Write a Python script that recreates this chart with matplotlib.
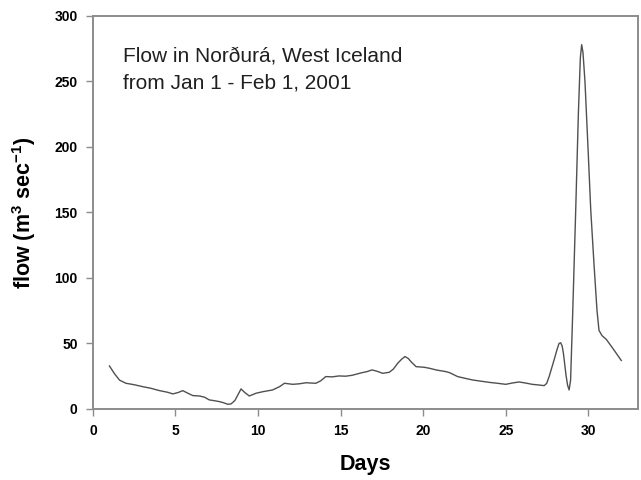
import matplotlib
matplotlib.use("Agg")
import matplotlib.pyplot as plt

plt.rcParams['font.family'] = ['Liberation Sans', 'DejaVu Sans']
plt.rcParams['mathtext.fontset'] = 'custom'
plt.rcParams['mathtext.rm'] = 'Liberation Sans'
plt.rcParams['mathtext.bf'] = 'Liberation Sans:bold'

# Daily-resolution readings of river discharge, Jan 1 - Feb 1, 2001
days = [1.0, 1.3, 1.61, 2.0, 2.5, 3.02, 3.5, 4.03, 4.5, 4.84, 5.15, 5.44, 5.75,
        6.05, 6.45, 6.75, 7.05, 7.4, 7.66, 7.9, 8.16, 8.36, 8.6, 8.97, 9.2,
        9.47, 9.88, 10.3, 10.88, 11.3, 11.6, 12.1, 12.5, 12.9, 13.5, 13.8,
        14.1, 14.5, 14.9, 15.3, 15.7, 16.3, 16.6, 16.9, 17.2, 17.55, 17.95,
        18.2, 18.46, 18.7, 18.9, 19.1, 19.27, 19.57, 20.07, 20.4, 20.78, 21.0,
        21.38, 21.6, 22.09, 22.5, 23.0, 23.5, 24.0, 24.5, 25.0, 25.4, 25.8,
        26.2, 26.6, 27.0, 27.33, 27.48, 27.63, 27.93, 28.1, 28.23, 28.33,
        28.42, 28.5, 28.65, 28.75, 28.84, 28.93, 29.05, 29.24, 29.4, 29.52,
        29.6, 29.68, 29.8, 30.0, 30.15, 30.35, 30.53, 30.65, 30.83, 31.1,
        31.5, 32.0]
flow = [32.8, 27.0, 22.0, 19.6, 18.5, 17.0, 15.8, 14.0, 12.8, 11.5, 12.5, 14.0,
        12.0, 10.2, 9.9, 9.0, 6.9, 6.2, 5.6, 4.8, 3.6, 3.8, 6.5, 15.3, 12.5,
        9.9, 12.0, 13.2, 14.5, 17.0, 19.6, 18.8, 19.2, 20.0, 19.6, 21.5, 24.7,
        24.5, 25.2, 25.0, 25.7, 27.7, 28.5, 29.8, 28.8, 27.2, 28.0, 30.5, 34.9,
        38.0, 40.0, 38.5, 36.0, 32.3, 31.8, 31.0, 29.8, 29.3, 28.5, 27.7, 24.7,
        23.5, 22.1, 21.2, 20.3, 19.6, 18.8, 19.8, 20.6, 19.8, 18.8, 18.3, 17.8,
        19.5, 24.7, 37.4, 45.0, 50.0, 50.5, 48.0, 42.0, 26.0, 18.0, 14.5, 22.0,
        70.0, 152.0, 225.0, 268.0, 278.0, 272.0, 250.0, 195.0, 152.0, 110.0,
        75.0, 60.0, 56.0, 53.0, 46.0, 37.0]

x_ticks = [0, 5, 10, 15, 20, 25, 30]
y_ticks = [0, 50, 100, 150, 200, 250, 300]

fig = plt.figure(figsize=(6.41, 4.8), dpi=100)
ax = fig.add_axes([0.145, 0.148, 0.85, 0.819])

ax.plot(days, flow, color='#505050', lw=1.0)

ax.set_xlim(0, 33)
ax.set_ylim(0, 300)
ax.set_xticks(x_ticks)
ax.set_yticks(y_ticks)

spine_color = '#8c8c8c'
for s in ax.spines.values():
    s.set_color(spine_color)
    s.set_linewidth(1.4)
ax.tick_params(direction='out', length=5, width=1.0, color=spine_color,
               labelsize=10, pad=6)
for lab in ax.get_xticklabels() + ax.get_yticklabels():
    lab.set_fontweight('bold')

ax.set_xlabel('Days', fontsize=15.5, fontweight='bold', labelpad=11)
ax.set_ylabel(r'flow (m$^{\mathbf{3}}$ sec$^{\mathbf{-1}}$)', fontsize=15.5,
              fontweight='bold', labelpad=12)

ax.text(1.81, 265, 'Flow in Norðurá, West Iceland', fontsize=15,
        color='#202020', va='baseline', ha='left')
ax.text(1.81, 244.8, 'from Jan 1 - Feb 1, 2001', fontsize=15,
        color='#202020', va='baseline', ha='left')

fig.savefig('out.png', dpi=100)
